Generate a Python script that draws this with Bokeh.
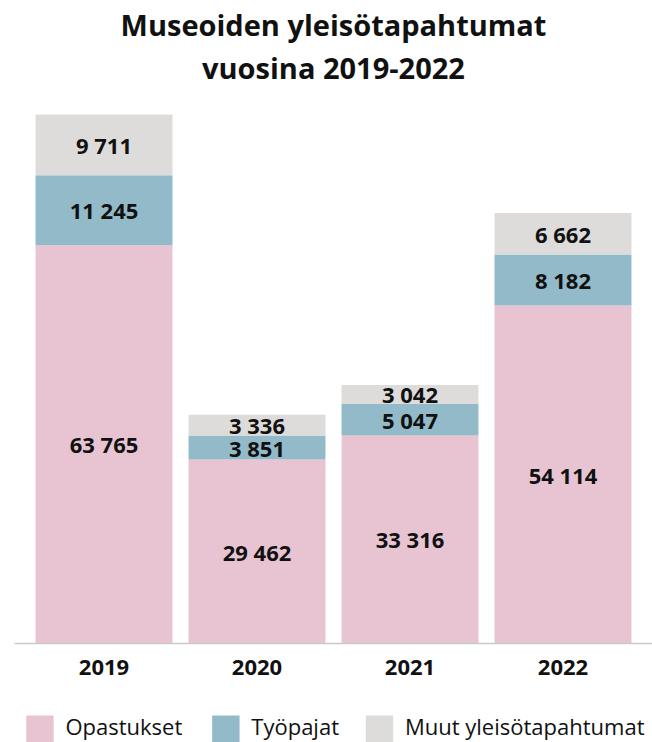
from bokeh.plotting import figure
from bokeh.models import (FactorRange, Range1d, ColumnDataSource, Title)
from bokeh.layouts import column
from bokeh.core.properties import value
from bokeh.embed import file_html
from bokeh.resources import INLINE
import numpy as np

years = ["2019", "2020", "2021", "2022"]
opastukset = [63765, 29462, 33316, 54114]
tyopajat = [11245, 3851, 5047, 8182]
muut = [9711, 3336, 3042, 6662]
series_names = ["Opastukset", "Työpajat", "Muut yleisötapahtumat"]
colors = ["#e8c4d3", "#93bac9", "#dddcdb"]
title_lines = ["Museoiden yleisötapahtumat", "vuosina 2019-2022"]

FONT = "Open Sans"
TXT = "#111111"

src = ColumnDataSource(dict(year=years, opastukset=opastukset, tyopajat=tyopajat, muut=muut))

FRAME_H = 555
totals = np.array(opastukset) + np.array(tyopajat) + np.array(muut)
YMAX = totals.max() * FRAME_H / 529

p = figure(x_range=FactorRange(factors=years, range_padding=0.0425),
           y_range=Range1d(0, YMAX),
           frame_width=638, frame_height=FRAME_H, output_backend="svg", toolbar_location=None,
           min_border_left=14, min_border_right=0, min_border_top=88, min_border_bottom=40)

p.title.text = title_lines[0]
p.title.align = "center"
p.title.text_font = FONT
p.title.text_font_size = "29px"
p.title.text_font_style = "bold"
p.title.text_color = TXT
p.title.standoff = 0
t2 = Title(text=title_lines[1], align="center", text_font=FONT, text_font_size="29px",
           text_font_style="bold", text_color=TXT, standoff=4)
p.add_layout(t2, "above")

rs = p.vbar_stack(["opastukset", "tyopajat", "muut"], x="year", width=0.895,
                  color=colors, line_width=0, source=src)

# segment labels
lx, ly, lt = [], [], []
base = np.zeros(len(years))
for vals in (opastukset, tyopajat, muut):
    v = np.array(vals, dtype=float)
    for i, yr in enumerate(years):
        lx.append(yr)
        ly.append(base[i] + v[i] / 2)
        lt.append(f"{int(v[i]):,}".replace(",", " "))
    base = base + v
lsrc = ColumnDataSource(dict(x=lx, y=ly, t=lt))
p.text(x="x", y="y", text="t", source=lsrc, text_align="center", text_baseline="middle",
       text_font=value(FONT), text_font_style="bold", text_font_size="22px", text_color=TXT)

p.yaxis.visible = False
p.xgrid.grid_line_color = None
p.ygrid.grid_line_color = None
p.outline_line_color = None
p.xaxis.axis_line_color = "#c9c9c9"
p.xaxis.axis_line_width = 1.5
p.xaxis.major_tick_line_color = None
p.xaxis.minor_tick_line_color = None
p.xaxis.major_label_text_font = FONT
p.xaxis.major_label_text_font_style = "bold"
p.xaxis.major_label_text_font_size = "22px"
p.xaxis.major_label_text_color = TXT
p.xaxis.major_label_standoff = 10

# legend strip below the chart (pixel-like units)
LEG_W, LEG_H = 652, 59
pl = figure(width=LEG_W, height=LEG_H, x_range=Range1d(0, LEG_W), y_range=Range1d(0, LEG_H),
            output_backend="svg", toolbar_location=None,
            min_border_left=0, min_border_right=0, min_border_top=0, min_border_bottom=0)
pl.axis.visible = False
pl.xgrid.grid_line_color = None
pl.ygrid.grid_line_color = None
pl.outline_line_color = None

item_x = np.array([12, 202, 359])   # legend item left edges (layout)
SW, SH = 28, 27
lg = ColumnDataSource(dict(l=item_x, r=item_x + SW, b=np.zeros(3), t=np.full(3, SH),
                           tx=item_x + SW + 12, ty=np.full(3, 16.5),
                           name=series_names, color=colors))
pl.quad(left="l", right="r", bottom="b", top="t", fill_color="color", line_width=0, source=lg)
pl.text(x="tx", y="ty", text="name", source=lg, text_align="left", text_baseline="middle",
        text_font=value(FONT), text_font_size="22px", text_color=TXT)

layout = column(p, pl, spacing=0)
open("out.html", "w").write(file_html(layout, INLINE))
